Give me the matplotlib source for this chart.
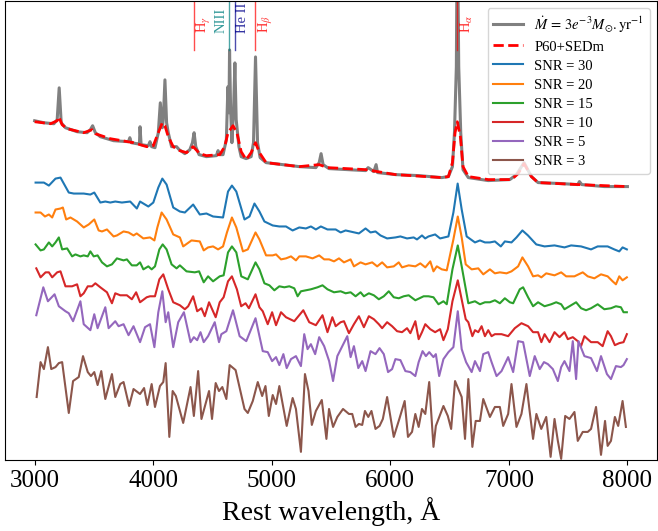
import numpy as np
import matplotlib
matplotlib.use('Agg')
import matplotlib.pyplot as plt

plt.rcParams['font.family'] = 'Liberation Serif'
plt.rcParams['mathtext.fontset'] = 'stix'

# model spectrum (wavelength [A], offset flux)
model = np.array([
	(3000, 3.39), (3078, 3.37), (3162, 3.36), (3190, 3.40), (3207, 3.72), (3224, 3.37),
	(3260, 3.32), (3358, 3.28), (3442, 3.27), (3470, 3.30), (3489, 3.34), (3512, 3.27),
	(3554, 3.23), (3666, 3.19), (3791, 3.18), (3803, 3.22), (3815, 3.17), (3861, 3.16),
	(3884, 3.16), (3889, 3.33), (3898, 3.15), (3959, 3.14), (3973, 3.18), (3987, 3.13),
	(4015, 3.12), (4043, 3.27), (4060, 3.57), (4077, 3.32), (4085, 3.40), (4099, 3.80),
	(4113, 3.37), (4127, 3.27), (4155, 3.13), (4197, 3.13), (4219, 3.10), (4267, 3.06),
	(4309, 3.10), (4331, 3.17), (4345, 3.27), (4359, 3.13), (4387, 3.05), (4449, 3.03),
	(4533, 3.04), (4547, 3.09), (4561, 3.05), (4589, 3.05), (4617, 3.20), (4630, 3.73),
	(4639, 3.47), (4644, 4.10), (4653, 3.50), (4664, 3.17), (4678, 3.50), (4689, 3.97),
	(4700, 3.40), (4723, 3.13), (4742, 3.03), (4784, 3.01), (4826, 3.03), (4846, 3.17),
	(4863, 4.03), (4880, 3.17), (4902, 3.02), (4952, 2.97), (5092, 2.95), (5232, 2.93),
	(5372, 2.92), (5400, 2.97), (5416, 3.06), (5433, 2.95), (5470, 2.92), (5483, 2.91),
	(5791, 2.89), (5813, 2.92), (5861, 2.88), (5880, 2.95), (5892, 2.87), (6043, 2.85),
	(6239, 2.84), (6434, 2.82), (6490, 2.83), (6524, 2.93), (6541, 3.27), (6557, 3.93),
	(6565, 5.50), (6577, 3.93), (6594, 3.27), (6613, 2.90), (6658, 2.82), (6826, 2.79),
	(7008, 2.80), (7064, 2.85), (7128, 2.97), (7190, 2.83), (7246, 2.77), (7441, 2.76),
	(7581, 2.75), (7595, 2.78), (7615, 2.75), (7805, 2.73), (8000, 2.73)])

sedm = np.array([
	(3000, 3.38), (3134, 3.36), (3190, 3.39), (3204, 3.43), (3232, 3.35), (3274, 3.31),
	(3414, 3.27), (3484, 3.30), (3512, 3.26), (3638, 3.21), (3834, 3.17), (3945, 3.13),
	(4001, 3.14), (4043, 3.27), (4077, 3.37), (4099, 3.34), (4127, 3.23), (4169, 3.13),
	(4225, 3.09), (4281, 3.07), (4337, 3.13), (4393, 3.06), (4449, 3.04), (4561, 3.05),
	(4603, 3.13), (4631, 3.27), (4673, 3.34), (4706, 3.27), (4742, 3.08), (4784, 3.00),
	(4826, 3.07), (4863, 3.17), (4896, 3.07), (4952, 2.97), (5232, 2.93), (5400, 2.95),
	(5470, 2.92), (5791, 2.90), (6043, 2.85), (6434, 2.82), (6490, 2.83), (6524, 2.97),
	(6546, 3.27), (6565, 3.38), (6591, 3.23), (6613, 2.93), (6658, 2.83), (6826, 2.80),
	(7022, 2.80), (7078, 2.86), (7128, 2.96), (7190, 2.83), (7246, 2.77), (7581, 2.75),
	(8000, 2.73)])

snr30 = np.array([
	(3008, 2.77), (3078, 2.77), (3120, 2.74), (3176, 2.81), (3218, 2.82), (3260, 2.73),
	(3288, 2.67), (3330, 2.66), (3414, 2.66), (3470, 2.65), (3503, 2.67), (3554, 2.57),
	(3596, 2.58), (3638, 2.57), (3680, 2.58), (3736, 2.57), (3806, 2.58), (3862, 2.51),
	(3889, 2.58), (3959, 2.53), (4001, 2.57), (4043, 2.72), (4077, 2.81), (4113, 2.75),
	(4169, 2.52), (4225, 2.48), (4267, 2.47), (4337, 2.55), (4393, 2.45), (4449, 2.46),
	(4505, 2.43), (4589, 2.42), (4631, 2.68), (4664, 2.74), (4701, 2.68), (4770, 2.40),
	(4812, 2.43), (4854, 2.56), (4896, 2.48), (4938, 2.38), (5008, 2.34), (5064, 2.33),
	(5120, 2.33), (5176, 2.29), (5232, 2.32), (5288, 2.31), (5330, 2.33), (5372, 2.30),
	(5414, 2.33), (5470, 2.30), (5539, 2.30), (5581, 2.27), (5623, 2.29), (5735, 2.26),
	(5791, 2.31), (5833, 2.27), (5875, 2.28), (5917, 2.24), (5973, 2.21), (6043, 2.22),
	(6085, 2.23), (6141, 2.21), (6197, 2.22), (6225, 2.20), (6267, 2.24), (6294, 2.21),
	(6322, 2.23), (6378, 2.25), (6420, 2.21), (6490, 2.23), (6532, 2.47), (6568, 2.76),
	(6602, 2.50), (6644, 2.23), (6714, 2.17), (6756, 2.19), (6798, 2.17), (6840, 2.17),
	(6882, 2.18), (6932, 2.13), (6966, 2.18), (7022, 2.17), (7064, 2.22), (7114, 2.29),
	(7161, 2.24), (7231, 2.15), (7301, 2.13), (7385, 2.14), (7469, 2.12), (7525, 2.14),
	(7609, 2.13), (7693, 2.10), (7749, 2.13), (7833, 2.13), (7889, 2.10), (7931, 2.08),
	(7959, 2.12), (7995, 2.10)])

snr20 = np.array([
	(3008, 2.47), (3050, 2.47), (3087, 2.43), (3120, 2.45), (3148, 2.42), (3176, 2.50),
	(3218, 2.51), (3238, 2.52), (3266, 2.40), (3302, 2.42), (3358, 2.38), (3414, 2.32),
	(3456, 2.35), (3503, 2.40), (3540, 2.29), (3568, 2.28), (3610, 2.30), (3666, 2.23),
	(3694, 2.24), (3750, 2.28), (3792, 2.27), (3834, 2.24), (3861, 2.26), (3917, 2.21),
	(3973, 2.22), (4010, 2.19), (4035, 2.32), (4071, 2.47), (4113, 2.40), (4169, 2.25),
	(4225, 2.22), (4253, 2.13), (4323, 2.19), (4393, 2.18), (4426, 2.09), (4463, 2.12),
	(4505, 2.13), (4547, 2.10), (4589, 2.13), (4622, 2.27), (4664, 2.42), (4701, 2.32),
	(4757, 2.08), (4798, 2.10), (4863, 2.27), (4896, 2.20), (4952, 2.04), (5008, 2.04),
	(5036, 2.05), (5078, 2.00), (5120, 2.01), (5162, 2.03), (5204, 1.99), (5232, 2.03),
	(5288, 2.03), (5344, 2.01), (5400, 2.04), (5442, 2.00), (5484, 2.00), (5525, 1.98),
	(5567, 2.01), (5609, 1.97), (5665, 2.00), (5693, 1.93), (5749, 1.97), (5791, 1.95),
	(5847, 1.97), (5889, 1.93), (5931, 1.97), (5973, 1.92), (6029, 1.93), (6071, 1.97),
	(6099, 1.92), (6155, 1.94), (6211, 1.93), (6253, 1.96), (6295, 1.92), (6337, 1.98),
	(6364, 1.88), (6392, 1.93), (6434, 1.90), (6476, 1.89), (6532, 2.20), (6569, 2.43),
	(6602, 2.22), (6636, 1.95), (6686, 1.90), (6742, 1.91), (6784, 1.85), (6840, 1.90),
	(6882, 1.86), (6924, 1.87), (6980, 1.86), (7022, 1.88), (7078, 1.93), (7114, 2.02),
	(7162, 1.93), (7204, 1.83), (7246, 1.84), (7274, 1.82), (7315, 1.86), (7385, 1.84),
	(7441, 1.87), (7483, 1.83), (7553, 1.83), (7623, 1.87), (7665, 1.83), (7721, 1.81),
	(7777, 1.85), (7833, 1.83), (7875, 1.78), (7903, 1.75), (7931, 1.83), (7959, 1.79),
	(7995, 1.82)])

snr15 = np.array([
	(3008, 2.15), (3050, 2.09), (3078, 2.10), (3120, 2.17), (3148, 2.13), (3176, 2.17),
	(3204, 2.22), (3232, 2.10), (3274, 2.11), (3316, 2.03), (3344, 2.05), (3386, 2.03),
	(3414, 2.04), (3448, 2.03), (3470, 2.08), (3498, 2.03), (3531, 2.04), (3568, 1.97),
	(3610, 1.93), (3652, 1.95), (3694, 2.01), (3750, 1.99), (3778, 2.00), (3820, 1.94),
	(3861, 1.94), (3889, 1.97), (3917, 1.90), (3959, 1.93), (3987, 1.90), (4015, 1.93),
	(4052, 2.10), (4080, 2.15), (4113, 2.10), (4155, 1.95), (4197, 1.91), (4225, 1.94),
	(4281, 1.88), (4351, 1.87), (4387, 1.88), (4426, 1.77), (4463, 1.83), (4505, 1.78),
	(4561, 1.83), (4594, 1.84), (4631, 2.07), (4664, 2.13), (4701, 2.07), (4743, 1.83),
	(4798, 1.80), (4863, 1.97), (4896, 1.90), (4938, 1.76), (4980, 1.74), (5022, 1.69),
	(5064, 1.73), (5106, 1.72), (5148, 1.73), (5190, 1.71), (5218, 1.63), (5246, 1.68),
	(5288, 1.69), (5330, 1.70), (5386, 1.72), (5428, 1.74), (5470, 1.70), (5525, 1.67),
	(5581, 1.68), (5623, 1.66), (5665, 1.67), (5707, 1.63), (5749, 1.67), (5777, 1.63),
	(5819, 1.66), (5861, 1.64), (5903, 1.60), (5945, 1.63), (5987, 1.68), (6029, 1.62),
	(6071, 1.61), (6113, 1.63), (6155, 1.64), (6211, 1.59), (6281, 1.63), (6322, 1.63),
	(6364, 1.62), (6406, 1.55), (6448, 1.58), (6476, 1.55), (6524, 1.90), (6569, 2.14),
	(6602, 1.93), (6658, 1.56), (6714, 1.58), (6756, 1.55), (6798, 1.57), (6840, 1.57),
	(6882, 1.59), (6924, 1.56), (6966, 1.61), (7008, 1.57), (7036, 1.56), (7092, 1.70),
	(7120, 1.72), (7162, 1.62), (7204, 1.53), (7246, 1.57), (7301, 1.53), (7357, 1.55),
	(7399, 1.57), (7441, 1.55), (7469, 1.50), (7525, 1.54), (7567, 1.57), (7609, 1.51),
	(7651, 1.49), (7693, 1.51), (7749, 1.55), (7805, 1.50), (7861, 1.51), (7903, 1.53),
	(7945, 1.52), (7967, 1.47), (7995, 1.47)])

snr10 = np.array([
	(3014, 1.91), (3050, 1.82), (3092, 1.87), (3120, 1.87), (3148, 1.82), (3190, 1.87),
	(3218, 1.88), (3260, 1.73), (3316, 1.73), (3358, 1.75), (3386, 1.63), (3414, 1.66),
	(3448, 1.73), (3484, 1.73), (3512, 1.76), (3554, 1.72), (3610, 1.67), (3652, 1.56),
	(3680, 1.66), (3722, 1.64), (3778, 1.64), (3820, 1.60), (3856, 1.67), (3889, 1.57),
	(3945, 1.62), (3973, 1.63), (4015, 1.63), (4052, 1.80), (4085, 1.85), (4127, 1.70),
	(4169, 1.57), (4225, 1.54), (4267, 1.50), (4295, 1.53), (4337, 1.63), (4371, 1.48),
	(4407, 1.51), (4435, 1.43), (4471, 1.57), (4527, 1.42), (4561, 1.57), (4594, 1.62),
	(4631, 1.78), (4664, 1.83), (4706, 1.70), (4742, 1.53), (4779, 1.56), (4807, 1.51),
	(4863, 1.65), (4896, 1.52), (4924, 1.48), (4966, 1.35), (5003, 1.47), (5036, 1.34),
	(5078, 1.47), (5120, 1.42), (5190, 1.38), (5266, 1.49), (5316, 1.37), (5372, 1.34),
	(5428, 1.44), (5470, 1.27), (5511, 1.42), (5539, 1.33), (5581, 1.37), (5609, 1.38),
	(5651, 1.26), (5693, 1.35), (5735, 1.43), (5777, 1.32), (5819, 1.43), (5861, 1.40),
	(5903, 1.35), (5931, 1.31), (5973, 1.37), (6015, 1.33), (6057, 1.28), (6099, 1.27),
	(6141, 1.31), (6169, 1.26), (6211, 1.38), (6239, 1.20), (6267, 1.27), (6295, 1.35),
	(6337, 1.30), (6378, 1.27), (6420, 1.30), (6448, 1.19), (6485, 1.30), (6524, 1.58),
	(6569, 1.79), (6602, 1.60), (6636, 1.40), (6658, 1.37), (6692, 1.23), (6714, 1.29),
	(6742, 1.27), (6770, 1.33), (6798, 1.23), (6826, 1.29), (6854, 1.23), (6882, 1.25),
	(6938, 1.25), (6994, 1.23), (7050, 1.31), (7106, 1.36), (7162, 1.33), (7204, 1.27),
	(7246, 1.27), (7274, 1.17), (7301, 1.25), (7343, 1.17), (7385, 1.27), (7427, 1.22),
	(7469, 1.27), (7497, 1.20), (7539, 1.22), (7581, 1.18), (7609, 1.13), (7637, 1.23),
	(7693, 1.17), (7749, 1.17), (7791, 1.13), (7833, 1.28), (7861, 1.23), (7894, 1.14),
	(7931, 1.16), (7967, 1.17), (7995, 1.25)])

snr5 = np.array([
	(3014, 1.44), (3073, 1.72), (3112, 1.58), (3168, 1.65), (3204, 1.53), (3260, 1.48),
	(3288, 1.46), (3324, 1.38), (3386, 1.58), (3414, 1.35), (3470, 1.29), (3503, 1.45),
	(3531, 1.31), (3596, 1.52), (3624, 1.31), (3680, 1.38), (3708, 1.33), (3750, 1.35),
	(3792, 1.24), (3834, 1.33), (3889, 1.17), (3931, 1.32), (3973, 1.35), (4010, 1.12),
	(4043, 1.47), (4077, 1.68), (4105, 1.37), (4127, 1.47), (4169, 1.12), (4211, 1.37),
	(4259, 1.47), (4315, 1.17), (4343, 1.22), (4371, 1.19), (4399, 1.27), (4426, 1.17),
	(4463, 1.23), (4519, 1.37), (4555, 1.17), (4575, 1.25), (4617, 1.28), (4673, 1.49),
	(4729, 1.23), (4785, 1.18), (4863, 1.41), (4924, 1.08), (4966, 1.07), (5003, 0.98),
	(5036, 1.02), (5064, 0.94), (5098, 1.05), (5126, 0.91), (5162, 1.00), (5204, 1.03),
	(5246, 0.93), (5274, 1.25), (5302, 1.10), (5330, 1.15), (5366, 1.05), (5400, 1.22),
	(5442, 1.13), (5484, 0.98), (5517, 0.78), (5553, 1.03), (5595, 1.13), (5637, 1.23),
	(5665, 1.02), (5693, 1.13), (5730, 0.91), (5763, 0.98), (5791, 0.88), (5833, 1.08),
	(5875, 1.05), (5909, 1.11), (5945, 1.05), (5981, 0.87), (6015, 0.90), (6043, 1.00),
	(6085, 0.99), (6127, 0.88), (6169, 0.87), (6211, 0.83), (6239, 0.97), (6272, 1.08),
	(6300, 1.03), (6328, 1.07), (6364, 1.02), (6384, 1.05), (6412, 0.83), (6448, 1.00),
	(6490, 1.07), (6532, 1.12), (6569, 1.48), (6602, 1.10), (6639, 0.97), (6686, 0.87),
	(6714, 0.98), (6756, 0.88), (6784, 1.05), (6826, 1.07), (6854, 0.97), (6896, 0.83),
	(6938, 0.88), (6994, 1.02), (7036, 0.87), (7078, 1.18), (7120, 1.17), (7148, 1.00),
	(7176, 0.83), (7218, 1.03), (7260, 0.90), (7296, 0.97), (7329, 0.95), (7371, 0.90),
	(7413, 0.78), (7441, 0.92), (7469, 0.98), (7511, 0.88), (7539, 1.18), (7567, 0.80),
	(7587, 1.18), (7637, 1.03), (7693, 1.01), (7743, 0.88), (7777, 1.03), (7827, 0.85),
	(7861, 0.80), (7903, 0.93), (7945, 0.92), (7967, 0.94), (7995, 1.00)])

snr3 = np.array([
	(3017, 0.62), (3050, 0.97), (3078, 0.90), (3112, 1.12), (3140, 0.90), (3176, 0.92),
	(3204, 0.96), (3232, 0.97), (3288, 0.46), (3324, 0.78), (3372, 0.82), (3408, 1.03),
	(3448, 0.87), (3475, 0.83), (3503, 0.87), (3531, 0.74), (3562, 0.88), (3596, 0.60),
	(3652, 0.85), (3680, 0.62), (3722, 0.75), (3750, 0.77), (3797, 0.53), (3834, 0.70),
	(3889, 0.65), (3923, 0.71), (3951, 0.54), (3987, 0.75), (4015, 0.52), (4057, 0.73),
	(4085, 0.77), (4105, 0.96), (4136, 0.22), (4164, 0.68), (4191, 0.63), (4253, 0.36),
	(4315, 0.72), (4343, 0.43), (4379, 0.88), (4407, 0.40), (4471, 0.68), (4496, 0.40),
	(4527, 0.76), (4555, 0.68), (4583, 0.72), (4617, 0.60), (4645, 0.94), (4695, 0.89),
	(4770, 0.50), (4798, 0.46), (4840, 0.58), (4882, 0.77), (4919, 0.63), (4947, 0.73),
	(4975, 0.43), (5008, 0.64), (5036, 0.55), (5064, 0.73), (5126, 0.33), (5176, 0.61),
	(5204, 0.50), (5246, 0.07), (5280, 0.85), (5310, 0.68), (5338, 0.34), (5372, 0.48),
	(5422, 0.59), (5461, 0.20), (5483, 0.50), (5517, 0.32), (5553, 0.42), (5601, 0.50),
	(5651, 0.45), (5679, 0.45), (5707, 0.32), (5735, 0.35), (5763, 0.34), (5786, 0.48),
	(5814, 0.42), (5841, 0.48), (5875, 0.30), (5909, 0.33), (5937, 0.40), (5973, 0.62),
	(6029, 0.22), (6076, 0.40), (6121, 0.58), (6149, 0.22), (6183, 0.27), (6211, 0.45),
	(6239, 0.32), (6267, 0.50), (6295, 0.45), (6328, 0.77), (6364, 0.12), (6384, 0.33),
	(6448, 0.53), (6485, 0.43), (6513, 0.30), (6546, 0.78), (6602, 0.62), (6630, 0.20),
	(6658, 0.80), (6692, 0.12), (6720, 0.38), (6756, 0.38), (6784, 0.60), (6840, 0.42),
	(6882, 0.52), (6924, 0.52), (6952, 0.33), (6994, 0.45), (7022, 0.75), (7064, 0.32),
	(7106, 0.45), (7148, 0.75), (7176, 0.47), (7204, 0.20), (7232, 0.45), (7273, 0.30),
	(7315, 0.42), (7352, 0.02), (7385, 0.40), (7413, 0.18), (7441, 0.00), (7475, 0.43),
	(7511, 0.40), (7553, 0.47), (7581, 0.18), (7623, 0.27), (7665, 0.27), (7693, 0.30),
	(7735, 0.52), (7777, 0.04), (7811, 0.38), (7833, 0.13), (7861, 0.18), (7894, 0.42),
	(7922, 0.33), (7959, 0.58), (7987, 0.32)])

snr_sets = [snr30, snr20, snr15, snr10, snr5, snr3]
snr_labels = ['SNR = 30', 'SNR = 20', 'SNR = 15', 'SNR = 10', 'SNR = 5', 'SNR = 3']

# line identifications
line_wave = [4340, 4640, 4686, 4861, 6563]
line_name = [r'H$_\gamma$', 'NIII', 'He II', r'H$_\beta$', r'H$_\alpha$']
line_col = ['red', 'teal', 'darkblue', 'red', 'red']
line_side = ['right', 'left', 'right', 'right', 'right']

fig = plt.figure(figsize=(6.58, 5.31), dpi=100)
ax = fig.add_axes([0.0076, 0.134, 0.991, 0.864])

ax.plot(model[:, 0], model[:, 1], color='gray', lw=2.2,
	label=r'$\dot{M}\,=\,3e^{-3}M_{\odot}.\mathrm{yr}^{-1}$')
ax.plot(sedm[:, 0], sedm[:, 1], color='red', ls='--', lw=2, label='P60+SEDm')
for i in range(len(snr_sets)):
	s = snr_sets[i]
	ax.plot(s[:, 0], s[:, 1], color='C%d' % i, lw=1.5, label=snr_labels[i])

ytop = 4.59
for w, n, c, side in zip(line_wave, line_name, line_col, line_side):
	ax.plot([w, w], [4.10, ytop + 0.1], color=c, lw=1, alpha=0.7)
	if side == 'right':
		ax.text(w + 12, 4.27, n, rotation=90, color=c, alpha=0.8, fontsize=10.5,
			ha='left', va='bottom')
	else:
		ax.text(w - 12, 4.27, n, rotation=90, color=c, alpha=0.8, fontsize=10.5,
			ha='right', va='bottom')

ax.set_xlim(2750, 8250)
ax.set_ylim(-0.01, ytop)
ax.set_yticks([])
ax.set_xticks([3000, 4000, 5000, 6000, 7000, 8000])
ax.tick_params(axis='x', labelsize=18)
ax.set_xlabel('Rest wavelength, Å', fontsize=20)
ax.legend(loc='upper right', fontsize=10.5, labelspacing=0.4)

fig.savefig('out.png', dpi=100)
